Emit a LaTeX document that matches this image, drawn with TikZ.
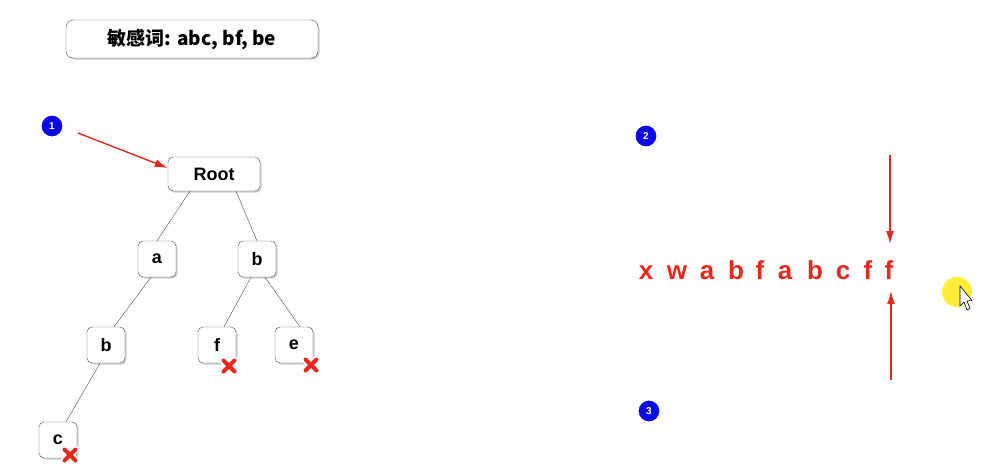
\documentclass[tikz,border=0pt]{standalone}
\usepackage{fontspec}
\setmainfont{Liberation Sans}
\newfontfamily\cjk{Noto Sans CJK SC}
\usetikzlibrary{shadows,calc,arrows.meta}

\definecolor{markred}{RGB}{232,40,28}
\definecolor{dotblue}{RGB}{10,10,230}

\tikzset{
  trienode/.style={draw=gray!60!black,fill=white,rounded corners=5pt,
    drop shadow={shadow xshift=1.5pt,shadow yshift=-1.5pt,opacity=0.4},
    font=\fontsize{18}{20}\selectfont\bfseries,inner sep=0pt},
  numdot/.style={circle,fill=dotblue,draw=white,line width=2pt,
    minimum size=23pt,inner sep=0pt,text=white,
    font=\fontsize{10}{11}\selectfont\bfseries,
    drop shadow={shadow xshift=0.8pt,shadow yshift=-0.8pt,opacity=0.45}},
  redarrow/.style={-{Latex[length=13pt,width=8pt]},markred,line width=1.4pt},
  textchar/.style={anchor=base,text=markred,font=\fontsize{26}{30}\selectfont\bfseries}
}

\newcommand{\crossmark}[1]{%
  \draw[white,line width=7.5pt,line cap=round] ($#1+(-5.5,-5.5)$) -- ($#1+(5.5,5.5)$) ($#1+(-5.5,5.5)$) -- ($#1+(5.5,-5.5)$);
  \draw[markred,line width=4pt,line cap=round] ($#1+(-5.5,-5.5)$) -- ($#1+(5.5,5.5)$) ($#1+(-5.5,5.5)$) -- ($#1+(5.5,-5.5)$);
}

\begin{document}
\begin{tikzpicture}[x=1pt,y=-1pt]
  \useasboundingbox (0,0) rectangle (1005,471);

  % title
  \node[trienode,minimum width=252pt,minimum height=38pt,rounded corners=7pt,
    font=\fontsize{19}{21}\selectfont\cjk\bfseries] (title) at (192,39) {敏感词: abc, bf, be};

  % trie
  \node[trienode,minimum width=92pt,minimum height=34pt] (root) at (214,174) {Root};
  \node[trienode,minimum width=38pt,minimum height=36pt] (na) at (157,259) {a};
  \node[trienode,minimum width=38pt,minimum height=36pt] (nb) at (257,259) {b};
  \node[trienode,minimum width=38pt,minimum height=36pt] (nab) at (106,345) {b};
  \node[trienode,minimum width=38pt,minimum height=36pt] (nbf) at (217,345) {f};
  \node[trienode,minimum width=38pt,minimum height=36pt] (nbe) at (294,345) {e};
  \node[trienode,minimum width=38pt,minimum height=36pt] (nabc) at (58,440) {c};

  \draw[gray!60!black] ($(root.south)+(-24,0)$) -- (na.north);
  \draw[gray!60!black] ($(root.south)+(22,0)$) -- (nb.north);
  \draw[gray!60!black] ($(na.south)+(-6,0)$) -- ($(nab.north)+(8,0)$);
  \draw[gray!60!black] ($(nb.south)+(-6,0)$) -- ($(nbf.north)+(7,0)$);
  \draw[gray!60!black] ($(nb.south)+(8,0)$) -- ($(nbe.north)+(6,0)$);
  \draw[gray!60!black] ($(nab.south)+(-6,0)$) -- ($(nabc.north)+(8,0)$);

  % end marks
  \crossmark{(70,455)}
  \crossmark{(229,366)}
  \crossmark{(311,365)}

  % pointers
  \node[numdot] (p1) at (52,126) {1};
  \node[numdot] (p2) at (646,136) {2};
  \node[numdot] (p3) at (649,411) {3};
  \coordinate (p1tail) at (78,133);
  \draw[redarrow] (p1tail) -- (root.west |- 0,168);

  % text
  \foreach \ch/\xx [count=\i] in {x/646,w/677,a/707,b/736,f/760,a/785,b/815,c/843,f/868,f/889}
    \node[textchar] (t\i) at (\xx,279) {\ch};

  \coordinate (downtail) at (890,155);
  \coordinate (uptail) at (891,380);
  \draw[redarrow] (downtail) -- (890,244);
  \draw[redarrow] (uptail) -- (891,291);

  % cursor
  \fill[yellow!90!orange,opacity=0.8] (957,292) circle (15);
  \draw[fill=white,line width=0.6pt,line join=round] (960,286) -- (960,306) -- (964,302) -- (967,310)
    -- (970,308.5) -- (967,301) -- (972,300.5) -- cycle;
\end{tikzpicture}
\end{document}
